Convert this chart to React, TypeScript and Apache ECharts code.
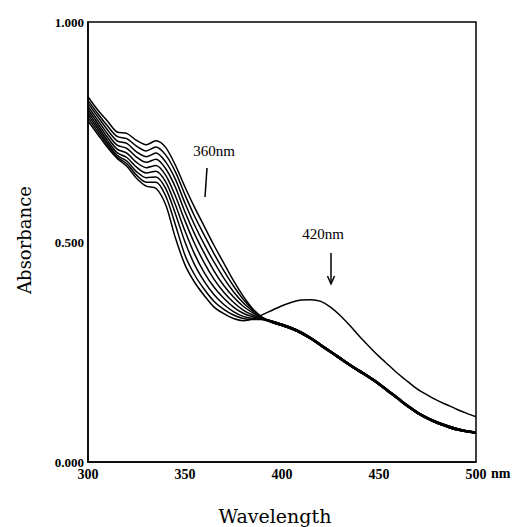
import React, { useEffect, useRef } from "react";
import * as echarts from "echarts";

// Wavelengths (nm) for the head part of each spectrum (300–390)
const headWavelengths = [300, 305, 310, 315, 320, 325, 330, 335, 340, 345, 350, 355, 360, 365, 370, 375, 380, 385, 390];
// Wavelengths (nm) for the tail part (395–500)
const tailWavelengths = [395, 400, 405, 410, 415, 420, 425, 430, 435, 440, 445, 450, 455, 460, 465, 470, 475, 480, 485, 490, 495, 500];

// Initial spectrum (with the 420 nm band)
const initialHead = [0.775, 0.745, 0.715, 0.69, 0.672, 0.645, 0.627, 0.622, 0.585, 0.51, 0.448, 0.408, 0.378, 0.352, 0.337, 0.326, 0.321, 0.325, 0.335];
const initialTail = [0.345, 0.355, 0.363, 0.368, 0.369, 0.365, 0.352, 0.333, 0.31, 0.285, 0.262, 0.24, 0.22, 0.2, 0.182, 0.165, 0.152, 0.14, 0.13, 0.12, 0.111, 0.103];

// Later spectra, head part (300–390)
const scan1Head = [0.782, 0.751, 0.72, 0.693, 0.678, 0.652, 0.636, 0.636, 0.605, 0.54, 0.47, 0.425, 0.392, 0.365, 0.347, 0.334, 0.326, 0.324, 0.324];
const scan2Head = [0.789, 0.757, 0.725, 0.697, 0.684, 0.66, 0.646, 0.648, 0.622, 0.565, 0.5, 0.448, 0.41, 0.38, 0.358, 0.342, 0.331, 0.326, 0.324];
const scan3Head = [0.795, 0.763, 0.731, 0.703, 0.692, 0.67, 0.657, 0.661, 0.637, 0.585, 0.525, 0.472, 0.43, 0.397, 0.372, 0.352, 0.338, 0.33, 0.325];
const scan4Head = [0.801, 0.77, 0.738, 0.711, 0.702, 0.681, 0.669, 0.674, 0.652, 0.605, 0.548, 0.496, 0.452, 0.415, 0.386, 0.363, 0.345, 0.334, 0.326];
const scan5Head = [0.808, 0.777, 0.746, 0.72, 0.713, 0.693, 0.681, 0.688, 0.667, 0.625, 0.568, 0.518, 0.474, 0.434, 0.401, 0.375, 0.354, 0.339, 0.327];
const scan6Head = [0.815, 0.785, 0.755, 0.73, 0.724, 0.705, 0.694, 0.702, 0.682, 0.643, 0.588, 0.538, 0.494, 0.454, 0.418, 0.387, 0.362, 0.343, 0.327];
const scan7Head = [0.822, 0.792, 0.764, 0.74, 0.735, 0.718, 0.707, 0.716, 0.698, 0.66, 0.607, 0.558, 0.515, 0.473, 0.435, 0.4, 0.37, 0.346, 0.328];
const scan8Head = [0.83, 0.8, 0.775, 0.75, 0.747, 0.731, 0.721, 0.73, 0.715, 0.675, 0.625, 0.578, 0.535, 0.492, 0.452, 0.412, 0.377, 0.348, 0.328];

// Shared tails of the later spectra (the thick bundle, 395–500)
const bundleTailA = [0.32, 0.313, 0.305, 0.295, 0.282, 0.267, 0.252, 0.237, 0.222, 0.208, 0.194, 0.179, 0.162, 0.145, 0.128, 0.113, 0.101, 0.091, 0.083, 0.076, 0.071, 0.068];
const bundleTailB = [0.317, 0.31, 0.302, 0.292, 0.279, 0.264, 0.249, 0.234, 0.219, 0.205, 0.191, 0.176, 0.159, 0.142, 0.125, 0.11, 0.098, 0.088, 0.08, 0.073, 0.069, 0.066];

const xTicks = [300, 350, 400, 450, 500];
const yTicks = [0, 0.5, 1];

const spectra = [
  { head: initialHead, tail: initialTail },
  { head: scan1Head, tail: bundleTailA },
  { head: scan2Head, tail: bundleTailB },
  { head: scan3Head, tail: bundleTailA },
  { head: scan4Head, tail: bundleTailB },
  { head: scan5Head, tail: bundleTailA },
  { head: scan6Head, tail: bundleTailB },
  { head: scan7Head, tail: bundleTailA },
  { head: scan8Head, tail: bundleTailB },
];

const tickFont = '"Liberation Serif", "DejaVu Serif", serif';
const titleFont = '"DejaVu Serif", "Liberation Serif", serif';

export default function App() {
  const ref = useRef<HTMLDivElement>(null);
  useEffect(() => {
    if (!ref.current) return;
    const chart = echarts.init(ref.current, null, { renderer: "svg" });
    const series = spectra.map((s, i) => ({
      type: "line",
      name: "scan" + i,
      data: [
        ...headWavelengths.map((w, j) => [w, s.head[j]]),
        ...tailWavelengths.map((w, j) => [w, s.tail[j]]),
      ],
      showSymbol: false,
      smooth: 0.3,
      lineStyle: { color: "#000", width: 1.5 },
      silent: true,
    }));
    chart.setOption({
      animation: false,
      backgroundColor: "#fff",
      grid: { left: 88, top: 22, right: 38, bottom: 65, show: true, borderColor: "#000", borderWidth: 1.5, backgroundColor: "transparent" },
      xAxis: {
        type: "value",
        min: xTicks[0],
        max: xTicks[xTicks.length - 1],
        interval: 50,
        axisLine: { show: true, lineStyle: { color: "#000", width: 1.5 } },
        axisTick: { show: false },
        splitLine: { show: false },
        axisLabel: { color: "#000", fontFamily: tickFont, fontSize: 14, fontWeight: "bold", margin: 5, formatter: (v: number) => (xTicks.includes(v) ? String(v) : "") },
      },
      yAxis: {
        type: "value",
        min: yTicks[0],
        max: yTicks[yTicks.length - 1],
        interval: 0.5,
        axisLine: { show: true, lineStyle: { color: "#000", width: 1.5 } },
        axisTick: { show: false },
        splitLine: { show: false },
        axisLabel: { color: "#000", fontFamily: tickFont, fontSize: 13, fontWeight: "bold", margin: 4, formatter: (v: number) => v.toFixed(3) },
      },
      series,
      graphic: [
        { type: "text", left: 491, top: 466, style: { text: "nm", fill: "#000", font: "bold 14px " + tickFont } },
        { type: "text", x: 275, y: 516, style: { text: "Wavelength", fill: "#000", font: "19px " + titleFont, textAlign: "center", textVerticalAlign: "middle" } },
        { type: "text", x: 24, y: 240, rotation: Math.PI / 2, style: { text: "Absorbance", fill: "#000", font: "18px " + titleFont, textAlign: "center", textVerticalAlign: "middle" } },
        { type: "text", x: 214, y: 151, style: { text: "360nm", fill: "#000", font: "15px " + tickFont, textAlign: "center", textVerticalAlign: "middle" } },
        { type: "line", shape: { x1: 207, y1: 168, x2: 205, y2: 197 }, style: { stroke: "#000", lineWidth: 1.5 } },
        { type: "text", x: 323, y: 234, style: { text: "420nm", fill: "#000", font: "15px " + tickFont, textAlign: "center", textVerticalAlign: "middle" } },
        { type: "line", shape: { x1: 331, y1: 253, x2: 331, y2: 283 }, style: { stroke: "#000", lineWidth: 1.5 } },
        { type: "polyline", shape: { points: [[327.5, 276], [331, 284], [334.5, 276]] }, style: { stroke: "#000", lineWidth: 1.5, fill: "none" } },
      ],
    });
    return () => chart.dispose();
  }, []);
  return <div ref={ref} style={{ position: "fixed", left: 0, top: 0, width: 514, height: 527 }} />;
}
